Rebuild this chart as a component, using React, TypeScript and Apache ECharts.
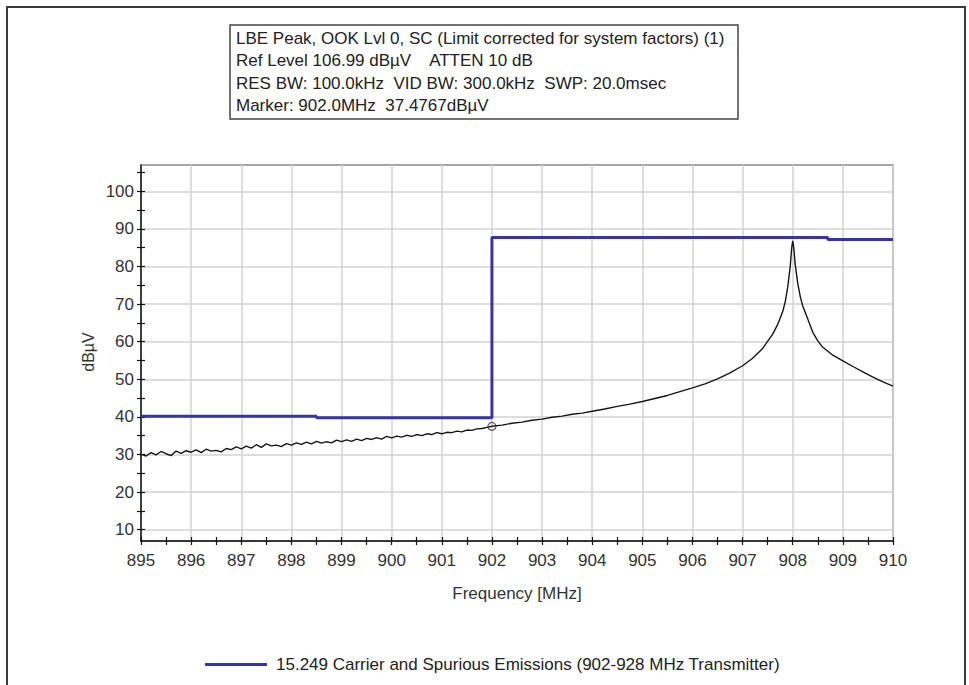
import React, { useEffect, useRef } from "react";
import * as echarts from "echarts";

const infoLines = [
  "LBE Peak, OOK Lvl 0, SC (Limit corrected for system factors) (1)",
  "Ref Level 106.99 dBµV    ATTEN 10 dB",
  "RES BW: 100.0kHz  VID BW: 300.0kHz  SWP: 20.0msec",
  "Marker: 902.0MHz  37.4767dBµV",
];

const limitName = "15.249 Carrier and Spurious Emissions (902-928 MHz Transmitter)";

const yLabelValues = [10, 20, 30, 40, 50, 60, 70, 80, 90, 100];
const yTickValues = [10, 15, 20, 25, 30, 35, 40, 45, 50, 55, 60, 65, 70, 75, 80, 85, 90, 95, 100, 105];

const limitFreq = [895, 898.5, 898.5, 902, 902, 908.7, 908.7, 910];
const limitLevel = [40.2, 40.2, 39.8, 39.8, 87.7, 87.7, 87.2, 87.2];

const traceFreq = [
  895.0, 895.1, 895.2, 895.3, 895.4, 895.5, 895.6, 895.7, 895.8, 895.9,
  896.0, 896.1, 896.2, 896.3, 896.4, 896.5, 896.6, 896.7, 896.8, 896.9,
  897.0, 897.1, 897.2, 897.3, 897.4, 897.5, 897.6, 897.7, 897.8, 897.9,
  898.0, 898.1, 898.2, 898.3, 898.4, 898.5, 898.6, 898.7, 898.8, 898.9,
  899.0, 899.1, 899.2, 899.3, 899.4, 899.5, 899.6, 899.7, 899.8, 899.9,
  900.0, 900.1, 900.2, 900.3, 900.4, 900.5, 900.6, 900.7, 900.8, 900.9,
  901.0, 901.1, 901.2, 901.3, 901.4, 901.5, 901.6, 901.7, 901.8, 901.9,
  902.0, 902.2, 902.4, 902.6, 902.8, 903.0, 903.2, 903.4, 903.6, 903.8,
  904.0, 904.25, 904.5, 904.75, 905.0, 905.25, 905.5, 905.75, 906.0, 906.25,
  906.5, 906.75, 907.0, 907.2, 907.4, 907.6, 907.7, 907.8, 907.85, 907.9,
  907.95, 907.98, 908.0, 908.02, 908.05, 908.1, 908.15, 908.2, 908.3, 908.4,
  908.5, 908.6, 908.8, 909.0, 909.2, 909.4, 909.6, 909.8, 910.0,
];
const traceLevel = [
  30.1, 29.6, 30.5, 29.9, 30.8, 30.2, 29.7, 30.9, 30.3, 31.0,
  30.6, 31.2, 30.5, 31.4, 30.9, 31.1, 30.7, 31.6, 31.3, 32.0,
  31.5, 32.2, 31.7, 32.6, 31.9, 32.8, 32.3, 32.5, 32.1, 32.9,
  32.5, 33.1, 32.7, 33.3, 32.8, 33.5, 33.0, 33.4, 33.1, 33.8,
  33.4, 33.9, 33.5, 34.1, 33.7, 34.3, 34.0, 34.5, 34.1, 34.8,
  34.4, 34.9, 34.6, 35.1, 34.8, 35.3, 35.0, 35.5, 35.3, 35.8,
  35.5, 35.9, 35.8, 36.2, 36.0, 36.5, 36.4, 36.8, 36.9, 37.2,
  37.5, 37.8, 38.3, 38.6, 39.1, 39.4, 39.9, 40.2, 40.7, 41.0,
  41.5, 42.1, 42.8, 43.4, 44.1, 44.9, 45.7, 46.7, 47.7, 48.8,
  50.1, 51.7, 53.6, 55.6, 58.2, 62.0, 64.6, 68.0, 70.6, 74.5,
  80.0, 85.0, 86.8, 85.0, 80.5, 75.5, 72.0, 69.5, 66.0, 62.5,
  60.2, 58.5, 56.4, 54.9, 53.4, 52.0, 50.6, 49.3, 48.2,
];

const markerFreq = 902.0;
const markerLevel = 37.4767;

const FONT = "'Liberation Sans', Arial, sans-serif";

export default function App() {
  const ref = useRef<HTMLDivElement>(null);
  useEffect(() => {
    if (!ref.current) return;
    const chart = echarts.init(ref.current, undefined, { renderer: "svg" });
    const yBase = { type: "value", min: 6.99, max: 106.99, position: "left" };
    const option: any = {
      animation: false,
      backgroundColor: "#ffffff",
      textStyle: { fontFamily: FONT },
      grid: {
        left: 141,
        right: 76,
        top: 165,
        bottom: 144,
        show: true,
        borderColor: "#8a8a8a",
        borderWidth: 1.5,
        backgroundColor: "#ffffff",
      },
      legend: {
        left: 200,
        top: 651,
        data: [limitName],
        icon: "rect",
        itemWidth: 62,
        itemHeight: 3,
        itemGap: 13,
        textStyle: { fontFamily: FONT, fontSize: 17, color: "#222", padding: [0, 0, 0, 4] },
      },
      xAxis: [
        {
          type: "value",
          min: 895,
          max: 910,
          interval: 1,
          axisLine: { show: true, onZero: false, lineStyle: { color: "#111", width: 1.5 } },
          axisTick: { show: true, length: 4, lineStyle: { color: "#111", width: 1.2 } },
          minorTick: { show: true, splitNumber: 2, length: 4, lineStyle: { color: "#111", width: 1.2 } },
          splitLine: { show: true, lineStyle: { color: "#d2d2d2", width: 1.5 } },
          axisLabel: { fontSize: 17, color: "#333", margin: 11, fontFamily: FONT },
        },
        {
          type: "value",
          min: 895,
          max: 910,
          interval: 0.5,
          position: "bottom",
          axisLine: { show: false, onZero: false },
          axisTick: { show: true, inside: true, length: 4, lineStyle: { color: "#111", width: 1.2 } },
          splitLine: { show: false },
          axisLabel: { show: false },
        },
      ],
      yAxis: [
        {
          ...yBase,
          axisLine: { show: true, onZero: false, lineStyle: { color: "#111", width: 1.5 } },
          axisTick: { show: true, length: 4, customValues: yTickValues, lineStyle: { color: "#111", width: 1.2 } },
          axisLabel: { customValues: yLabelValues, fontSize: 17, color: "#333", margin: 7, fontFamily: FONT },
          splitLine: { show: false },
        },
        {
          ...yBase,
          axisLine: { show: false, onZero: false },
          axisTick: { show: false, customValues: yLabelValues },
          axisLabel: { show: false, customValues: yLabelValues },
          splitLine: { show: true, lineStyle: { color: "#d2d2d2", width: 1.5 } },
        },
        {
          ...yBase,
          axisLine: { show: false, onZero: false },
          axisTick: { show: true, inside: true, length: 4, customValues: yTickValues, lineStyle: { color: "#111", width: 1.2 } },
          axisLabel: { show: false, customValues: yLabelValues },
          splitLine: { show: false },
        },
      ],
      series: [
        {
          name: "Trace",
          type: "line",
          xAxisIndex: 0,
          yAxisIndex: 0,
          data: traceFreq.map((f, i) => [f, traceLevel[i]]),
          showSymbol: false,
          lineStyle: { color: "#151515", width: 1.4 },
          itemStyle: { color: "#151515" },
          z: 3,
        },
        {
          name: limitName,
          type: "line",
          xAxisIndex: 0,
          yAxisIndex: 0,
          data: limitFreq.map((f, i) => [f, limitLevel[i]]),
          showSymbol: false,
          lineStyle: { color: "#3535a8", width: 3 },
          itemStyle: { color: "#3535a8" },
          z: 4,
        },
        {
          name: "Marker",
          type: "scatter",
          xAxisIndex: 0,
          yAxisIndex: 0,
          data: [[markerFreq, markerLevel]],
          symbol: "circle",
          symbolSize: 8,
          itemStyle: { color: "rgba(255,255,255,0)", borderColor: "#333", borderWidth: 1.2 },
          z: 5,
        },
      ],
      graphic: [
        {
          type: "rect",
          shape: { x: 7, y: 7, width: 958, height: 700 },
          style: { fill: "none", stroke: "#3a3a3a", lineWidth: 2 },
          silent: true,
          z: 100,
        },
        {
          type: "rect",
          shape: { x: 230, y: 25, width: 508, height: 94 },
          style: { fill: "#ffffff", stroke: "#444", lineWidth: 1.5 },
          z: 100,
        },
        ...infoLines.map((t, i) => ({
          type: "text",
          x: 236,
          y: 38 + i * 22.5,
          style: {
            text: t,
            fontSize: 17,
            fontFamily: FONT,
            fill: "#222",
            verticalAlign: "middle",
          },
          z: 101,
        })),
        {
          type: "text",
          x: 517,
          y: 593,
          style: {
            text: "Frequency [MHz]",
            fontSize: 17,
            fontFamily: FONT,
            fill: "#333",
            align: "center",
            verticalAlign: "middle",
          },
          z: 101,
        },
        {
          type: "text",
          x: 88,
          y: 352,
          rotation: Math.PI / 2,
          style: {
            text: "dBµV",
            fontSize: 16,
            fontFamily: FONT,
            fill: "#333",
            align: "center",
            verticalAlign: "middle",
          },
          z: 101,
        },
      ],
    };
    chart.setOption(option);
    return () => chart.dispose();
  }, []);
  return (
    <div
      ref={ref}
      style={{ position: "absolute", left: 0, top: 0, width: 969, height: 685 }}
    />
  );
}
